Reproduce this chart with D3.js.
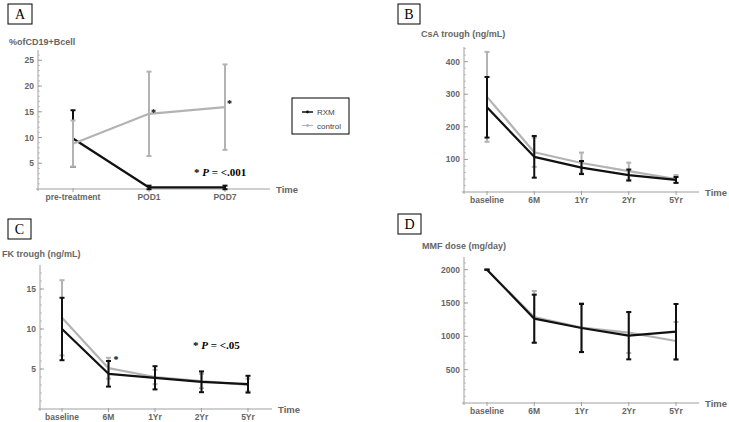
<!DOCTYPE html>
<html><head><meta charset="utf-8">
<script src="https://cdn.jsdelivr.net/npm/d3@7/dist/d3.min.js"></script>
<style>body{margin:0;background:#fff}svg{display:block}</style>
</head><body>
<svg id="c" width="729" height="422"></svg>
<script>
// ---------- data ----------
const catsA = ["pre-treatment", "POD1", "POD7"];
const rxmA = [9.8, 0.3, 0.3];
const rxmErrA = [5.5, 0.35, 0.35];
const ctrlA = [8.8, 14.6, 15.9];
const ctrlErrA = [4.5, 8.2, 8.3];
const ticksA = [5, 10, 15, 20, 25];

const catsT = ["baseline", "6M", "1Yr", "2Yr", "5Yr"];

const rxmB = [260, 108, 75, 52, 37];
const rxmErrB = [93, 64, 20, 17, 9];
const ctrlB = [292, 122, 89, 64, 40];
const ctrlErrB = [138, 45, 32, 26, 12];
const ticksB = [100, 200, 300, 400];

const rxmC = [10.0, 4.4, 3.9, 3.4, 3.1];
const rxmErrC = [3.9, 1.6, 1.45, 1.3, 1.05];
const ctrlC = [11.4, 5.1, 4.0, 3.5, 3.0];
const ctrlErrC = [4.7, 1.3, 0.9, 0.9, 0.8];
const ticksC = [5, 10, 15];

const rxmD = [2000, 1265, 1125, 1010, 1070];
const rxmErrD = [0, 360, 360, 355, 415];
const ctrlD = [2000, 1290, 1130, 1055, 930];
const ctrlErrD = [0, 390, 370, 305, 285];
const ticksD = [500, 1000, 1500, 2000];

const seriesNames = ["RXM", "control"];

// ---------- drawing ----------
const svg = d3.select("#c");
const BLACK = "#111", GRAY = "#b3b3b3", AX = "#a0a0a0", TXT = "#666";
const SANS = "'Liberation Sans', Arial, Helvetica, sans-serif";
const SERIF = "'Liberation Serif', 'Times New Roman', serif";

function panel(cfg) {
  const g = svg.append("g");
  const x = d3.scalePoint().domain(cfg.cats).range(cfg.catRange);
  const y = d3.scaleLinear().domain([0, cfg.ymax]).range([cfg.y0, cfg.ytop]);

  // label box
  g.append("rect").attr("x", cfg.box[0]).attr("y", cfg.box[1]).attr("width", cfg.box[2]).attr("height", cfg.box[3])
    .attr("fill", "none").attr("stroke", "#000").attr("stroke-width", 1);
  g.append("text").attr("x", cfg.box[0] + cfg.box[2] / 2).attr("y", cfg.box[1] + cfg.box[3] / 2 + 5)
    .attr("text-anchor", "middle").attr("font-family", SERIF).attr("font-size", 14).text(cfg.letter);

  // title
  g.append("text").attr("x", cfg.title[0]).attr("y", cfg.title[1]).attr("font-family", SANS)
    .attr("font-weight", "bold").attr("font-size", 9).attr("fill", TXT).text(cfg.titleText);

  // axes
  g.append("line").attr("x1", cfg.ox - 2).attr("x2", cfg.xEnd).attr("y1", cfg.y0).attr("y2", cfg.y0)
    .attr("stroke", AX).attr("stroke-width", 1);
  g.append("line").attr("x1", cfg.ox).attr("x2", cfg.ox).attr("y1", cfg.y0 + 2).attr("y2", cfg.ytop)
    .attr("stroke", AX).attr("stroke-width", 1);

  // y ticks
  const minor = d3.range(cfg.minorStep, cfg.ymax, cfg.minorStep);
  g.selectAll(null).data(minor).enter().append("line")
    .attr("x1", cfg.ox).attr("x2", cfg.ox + 2).attr("y1", d => y(d)).attr("y2", d => y(d))
    .attr("stroke", AX).attr("stroke-width", 0.6);
  g.selectAll(null).data(cfg.ticks).enter().append("line")
    .attr("x1", cfg.ox).attr("x2", cfg.ox + 4).attr("y1", d => y(d)).attr("y2", d => y(d))
    .attr("stroke", AX).attr("stroke-width", 1);
  g.selectAll(null).data(cfg.ticks).enter().append("text")
    .attr("x", cfg.ox - 4).attr("y", d => y(d) + 3).attr("text-anchor", "end")
    .attr("font-family", SANS).attr("font-weight", "bold").attr("font-size", 8.5).attr("fill", TXT).text(d => d);

  // x ticks
  g.selectAll(null).data(cfg.cats).enter().append("line")
    .attr("x1", d => x(d)).attr("x2", d => x(d)).attr("y1", cfg.y0 - 1).attr("y2", cfg.y0 + 3)
    .attr("stroke", AX).attr("stroke-width", 1);
  g.selectAll(null).data(cfg.cats).enter().append("text")
    .attr("x", d => x(d)).attr("y", cfg.y0 + 11).attr("text-anchor", "middle")
    .attr("font-family", SANS).attr("font-weight", "bold").attr("font-size", 8.5).attr("fill", TXT).text(d => d);
  g.append("text").attr("x", cfg.xEnd + 6).attr("y", cfg.y0 + 3.5).attr("font-family", SANS)
    .attr("font-weight", "bold").attr("font-size", 9.5).attr("fill", TXT).text("Time");

  const line = d3.line().x((d, i) => x(cfg.cats[i])).y(d => y(d));

  function series(vals, errs, color) {
    const sg = g.append("g");
    const pts = vals.map((v, i) => ({ c: cfg.cats[i], v, e: errs[i] }));
    sg.selectAll(null).data(pts).enter().append("line")
      .attr("x1", d => x(d.c)).attr("x2", d => x(d.c)).attr("y1", d => y(d.v - d.e)).attr("y2", d => y(d.v + d.e))
      .attr("stroke", color).attr("stroke-width", 2);
    [-1, 1].forEach(s => {
      sg.selectAll(null).data(pts).enter().append("line")
        .attr("x1", d => x(d.c) - 2.5).attr("x2", d => x(d.c) + 2.5)
        .attr("y1", d => y(d.v + s * d.e)).attr("y2", d => y(d.v + s * d.e))
        .attr("stroke", color).attr("stroke-width", 2);
    });
    sg.append("path").datum(vals).attr("d", line).attr("fill", "none").attr("stroke", color)
      .attr("stroke-width", 2.2).attr("stroke-linejoin", "round");
  }
  if (cfg.grayOnTop) {
    series(cfg.rxm, cfg.rxmErr, BLACK);
    series(cfg.ctrl, cfg.ctrlErr, GRAY);
  } else {
    series(cfg.ctrl, cfg.ctrlErr, GRAY);
    series(cfg.rxm, cfg.rxmErr, BLACK);
  }
  return { g, x, y };
}

function pText(g, px, py, pval) {
  const t = g.append("text").attr("x", px).attr("y", py).attr("font-family", SERIF)
    .attr("font-weight", "bold").attr("font-size", 11).attr("fill", "#000");
  t.append("tspan").text("* ");
  t.append("tspan").attr("font-style", "italic").text("P");
  t.append("tspan").text(" = <" + pval);
}

function star(g, px, py) {
  g.append("text").attr("x", px).attr("y", py).attr("font-family", SERIF).attr("font-weight", "bold")
    .attr("font-size", 10).attr("fill", "#000").text("*");
}

// Panel A
const A = panel({
  letter: "A", box: [8, 4, 24, 20], titleText: "%ofCD19+Bcell", title: [9, 45],
  cats: catsA, catRange: [73, 225], ox: 38, xEnd: 270, y0: 189, ytop: 50, ymax: 27,
  ticks: ticksA, minorStep: 1, rxm: rxmA, rxmErr: rxmErrA, ctrl: ctrlA, ctrlErr: ctrlErrA, grayOnTop: true
});
star(A.g, A.x("POD1") + 2, A.y(ctrlA[1]) + 2);
star(A.g, A.x("POD7") + 2, A.y(ctrlA[2]) + 0);
pText(A.g, 194, 176, ".001");

// legend
const lg = svg.append("g");
lg.append("rect").attr("x", 292).attr("y", 98).attr("width", 57).attr("height", 36)
  .attr("fill", "#fff").attr("stroke", "#000").attr("stroke-width", 1);
seriesNames.forEach((n, i) => {
  const ly = 112 + i * 13.5;
  const col = i === 0 ? BLACK : GRAY;
  lg.append("line").attr("x1", 302).attr("x2", 313).attr("y1", ly).attr("y2", ly)
    .attr("stroke", col).attr("stroke-width", i === 0 ? 1.5 : 1);
  lg.append("circle").attr("cx", 307.5).attr("cy", ly).attr("r", 1.4).attr("fill", col);
  lg.append("text").attr("x", 317).attr("y", ly + 3).attr("font-family", SANS).attr("font-size", 8)
    .attr("fill", "#444").text(n);
});

// Panel B
panel({
  letter: "B", box: [398, 4, 22, 20], titleText: "CsA trough (ng/mL)", title: [421, 37],
  cats: catsT, catRange: [487, 676], ox: 464, xEnd: 699, y0: 192, ytop: 47, ymax: 445,
  ticks: ticksB, minorStep: 20, rxm: rxmB, rxmErr: rxmErrB, ctrl: ctrlB, ctrlErr: ctrlErrB
});

// Panel C
const C = panel({
  letter: "C", box: [8, 219, 23, 20], titleText: "FK trough (ng/mL)", title: [2, 257],
  cats: catsT, catRange: [62, 248], ox: 40, xEnd: 272, y0: 409, ytop: 265, ymax: 18,
  ticks: ticksC, minorStep: 1, rxm: rxmC, rxmErr: rxmErrC, ctrl: ctrlC, ctrlErr: ctrlErrC
});
star(C.g, C.x("6M") + 5, C.y(ctrlC[1] + ctrlErrC[1]) + 5);
pText(C.g, 193, 349, ".05");

// Panel D
panel({
  letter: "D", box: [398, 214, 23, 20], titleText: "MMF dose (mg/day)", title: [422, 249],
  cats: catsT, catRange: [487, 676], ox: 464, xEnd: 699, y0: 403, ytop: 257, ymax: 2190,
  ticks: ticksD, minorStep: 100, rxm: rxmD, rxmErr: rxmErrD, ctrl: ctrlD, ctrlErr: ctrlErrD
});
</script>
</body></html>
